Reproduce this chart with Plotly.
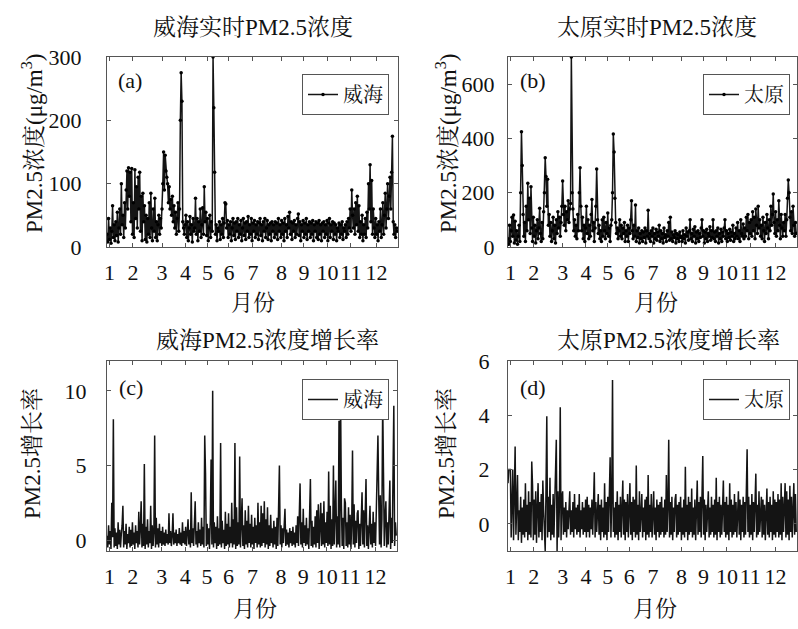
import plotly.graph_objects as go

# ---------------- data ----------------
month_labels = ["1", "2", "3", "4", "5", "6", "7", "8", "9", "10", "11", "12"]
month_label_days = [3, 32.5, 69, 98.5, 126, 153, 183, 219, 247, 276.5, 306, 338]

# Weihai real-time PM2.5 (ug/m3), one reading per day of year
weihai_pm25 = [
    20, 8, 45, 12, 30, 6, 25, 65, 15, 35,
    10, 40, 18, 55, 8, 30, 60, 20, 100, 35,
    50, 15, 70, 30, 90, 120, 60, 125, 80, 118,
    40, 124, 20, 70, 15, 122, 45, 95, 30, 110,
    60, 118, 25, 80, 10, 85, 40, 65, 12, 50,
    8, 45, 20, 70, 15, 85, 30, 10, 60, 25,
    77, 15, 40, 10, 35, 50, 20, 45, 30, 60,
    100, 150, 90, 145, 120, 110, 100, 70, 95, 60,
    75, 50, 80, 40, 65, 30, 55, 20, 45, 70,
    25, 60, 200, 275, 230, 40, 30, 20, 35, 50,
    15, 40, 10, 30, 48, 20, 35, 8, 45, 25,
    30, 77, 20, 45, 10, 40, 25, 60, 15, 35,
    62, 20, 95, 40, 55, 18, 45, 10, 30, 50,
    15, 40, 25, 300, 220, 118, 20, 35, 10, 30,
    25, 40, 12, 35, 20, 45, 15, 38, 70, 68,
    30, 42, 15, 35, 20, 40, 10, 30, 45, 18,
    38, 12, 40, 25, 45, 15, 35, 20, 42, 10,
    30, 45, 18, 38, 12, 40, 25, 48, 15, 35,
    20, 45, 10, 38, 25, 42, 15, 35, 20, 40,
    12, 38, 45, 18, 35, 10, 40, 25, 45, 15,
    30, 42, 12, 35, 20, 38, 10, 40, 25, 35,
    15, 40, 20, 38, 12, 45, 25, 35, 15, 42,
    20, 38, 10, 45, 25, 35, 15, 48, 30, 55,
    20, 40, 12, 38, 25, 42, 15, 35, 20, 45,
    52, 18, 40, 10, 35, 25, 42, 15, 38, 20,
    45, 12, 35, 25, 40, 15, 38, 20, 42, 10,
    35, 25, 40, 15, 38, 12, 42, 20, 35, 10,
    38, 25, 40, 15, 35, 20, 42, 10, 38, 45,
    15, 35, 25, 40, 12, 38, 20, 35, 10, 30,
    25, 38, 15, 35, 20, 40, 12, 30, 25, 35,
    15, 40, 20, 45, 30, 60, 25, 90, 50, 30,
    60, 20, 70, 35, 80, 25, 65, 15, 40, 20,
    50, 10, 35, 20, 45, 15, 55, 30, 100, 60,
    130, 40, 105, 20, 60, 30, 15, 45, 20, 35,
    10, 40, 25, 60, 15, 35, 70, 20, 50, 85,
    30, 60, 100, 45, 80, 110, 60, 118, 175, 40,
    20, 35, 15, 30, 25,
]

# Taiyuan real-time PM2.5 (ug/m3)
taiyuan_pm25 = [
    30, 10, 80, 20, 60, 110, 40, 118, 15, 95,
    25, 60, 10, 40, 80, 20, 200, 425, 300, 120,
    40, 90, 20, 150, 60, 235, 100, 180, 50, 222,
    70, 20, 110, 40, 80, 15, 60, 100, 30, 70,
    143, 50, 20, 90, 30, 130, 200, 329, 260, 150,
    250, 80, 120, 40, 90, 20, 60, 110, 30, 80,
    15, 100, 50, 130, 70, 110, 40, 90, 150, 243,
    120, 80, 150, 60, 130, 100, 170, 90, 140, 160,
    700, 200, 140, 60, 100, 40, 80, 30, 120, 60,
    200, 292, 150, 60, 110, 30, 80, 20, 70, 150,
    50, 100, 30, 80, 40, 120, 175, 60, 90, 20,
    70, 150, 287, 100, 50, 80, 30, 60, 20, 100,
    40, 110, 60, 30, 90, 50, 125, 40, 70, 20,
    80, 100, 200, 416, 350, 180, 90, 50, 70, 30,
    60, 100, 40, 80, 30, 70, 50, 90, 20, 60,
    40, 80, 20, 70, 50, 100, 170, 60, 30, 80,
    40, 155, 20, 60, 35, 70, 15, 50, 30, 60,
    20, 55, 35, 70, 15, 60, 40, 135, 30, 50,
    20, 60, 40, 70, 15, 50, 30, 65, 25, 55,
    40, 80, 20, 60, 30, 50, 15, 70, 35, 45,
    20, 60, 40, 90, 25, 110, 30, 55, 20, 45,
    35, 60, 15, 50, 30, 45, 20, 55, 35, 40,
    20, 60, 30, 45, 15, 70, 40, 55, 25, 60,
    100, 30, 50, 20, 65, 40, 75, 15, 55, 30,
    60, 20, 50, 35, 70, 100, 40, 60, 15, 55,
    30, 65, 20, 50, 40, 75, 25, 60, 35, 100,
    30, 55, 20, 60, 40, 70, 15, 50, 30, 65,
    20, 55, 40, 70, 100, 30, 60, 20, 50, 35,
    65, 25, 55, 40, 80, 20, 50, 30, 70, 40,
    90, 30, 60, 20, 100, 50, 40, 85, 30, 70,
    40, 110, 60, 120, 30, 90, 50, 100, 40, 130,
    60, 110, 30, 140, 80, 50, 150, 70, 100, 40,
    80, 30, 110, 60, 20, 90, 50, 120, 70, 30,
    100, 60, 150, 80, 120, 195, 90, 50, 130, 40,
    100, 60, 170, 80, 30, 120, 70, 40, 90, 60,
    120, 40, 100, 180, 247, 200, 110, 60, 130, 50,
    150, 80, 40, 90, 50,
]

# Weihai PM2.5 growth rate
weihai_rate = [
    0.3, -0.5, 1.0, -0.3, 0.6, -0.6, 2.5, 0.2, 8.1, -0.5,
    0.8, -0.4, 0.5, -0.6, 1.2, -0.3, 0.7, -0.5, 0.4, 1.0,
    2.3, -0.5, 0.6, -0.3, 1.1, -0.6, 0.4, -0.2, 0.9, -0.5,
    0.7, -0.4, 1.2, -0.3, 0.5, -0.6, 1.0, -0.2, 0.6, -0.5,
    1.9, -0.3, 0.8, 2.6, -0.5, 1.1, -0.4, 5.1, -0.6, 0.9,
    -0.3, 1.4, -0.5, 0.6, -0.2, 2.3, -0.6, 1.0, -0.4, 0.5,
    7.0, -0.5, 1.5, -0.3, 0.8, -0.5, 1.1, -0.2, 0.6, -0.4,
    0.9, -0.3, 0.5, -0.4, 0.7, -0.2, 0.4, -0.3, 1.8, -0.2,
    0.6, -0.4, 0.3, 1.8, -0.3, 0.5, -0.2, 0.7, -0.4, 0.4,
    -0.2, 0.8, -0.3, 0.5, -0.4, 1.2, -0.2, 0.6, -0.3, 0.9,
    -0.4, 0.5, 1.4, -0.3, 0.7, -0.5, 3.2, -0.2, 0.8, -0.4,
    1.0, 2.6, -0.3, 0.6, -0.5, 1.2, -0.2, 0.7, -0.4, 1.5,
    -0.3, 0.9, -0.5, 7.0, 4.5, -0.4, 1.1, -0.3, 0.8, -0.6,
    1.3, 5.4, -0.3, 10.0, -0.5, 1.2, -0.2, 0.9, -0.6, 1.6,
    -0.4, 0.8, -0.3, 6.5, -0.5, 1.3, -0.2, 0.7, -0.6, 1.9,
    -0.4, 1.1, -0.3, 1.8, -0.5, 0.9, -0.2, 2.5, -0.5, 1.4,
    -0.3, 6.5, -0.6, 2.2, -0.4, 1.2, -0.3, 5.6, -0.5, 1.6,
    2.8, -0.4, 1.0, -0.6, 2.0, -0.3, 1.3, -0.5, 2.3, -0.2,
    1.1, -0.5, 1.7, -0.3, 0.9, -0.6, 1.5, -0.2, 1.0, -0.5,
    2.5, -0.3, 1.2, -0.5, 2.3, -0.4, 1.8, -0.2, 2.6, -0.5,
    1.4, -0.3, 2.2, -0.6, 1.0, -0.4, 1.7, -0.2, 0.8, -0.5,
    1.3, -0.3, 0.9, -0.6, 1.5, -0.4, 2.2, 5.0, -0.3, 1.0,
    -0.5, 0.8, -0.2, 0.6, 2.1, -0.4, 0.7, -0.3, 0.5, -0.5,
    0.8, -0.2, 0.6, -0.4, 0.9, -0.3, 0.5, -0.5, 1.0, -0.2,
    1.6, -0.4, 2.1, 3.8, -0.3, 1.2, -0.5, 2.1, -0.2, 1.0,
    -0.4, 1.5, -0.3, 0.8, -0.6, 1.8, 4.1, -0.4, 1.3, -0.5,
    0.9, -0.3, 1.6, -0.5, 2.0, -0.2, 2.4, -0.6, 1.1, 2.5,
    -0.4, 1.8, -0.3, 2.6, -0.5, 1.2, -0.2, 1.9, -0.4, 4.6,
    -0.3, 2.3, -0.6, 1.4, -0.4, 5.0, -0.3, 2.0, 4.0, -0.5,
    1.6, -0.3, 8.0, -0.5, 9.5, 2.4, -0.4, 1.5, -0.6, 2.8,
    2.5, -0.4, 1.2, -0.5, 2.2, -0.3, 1.7, -0.6, 1.1, 6.0,
    -0.3, 2.4, -0.5, 1.3, -0.2, 1.8, 2.0, -0.6, 1.1, -0.4,
    1.6, 3.2, -0.3, 2.0, -0.5, 1.4, 4.1, -0.4, 1.0, -0.6,
    1.5, 2.3, -0.3, 1.1, -0.5, 1.9, -0.2, 1.2, -0.4, 2.5,
    3.0, 7.0, 2.9, -0.3, 3.0, -0.5, 1.4, 9.3, 4.5, -0.4,
    1.6, 2.6, -0.5, 1.2, -0.3, 1.8, 4.0, -0.6, 1.5, -0.2,
    3.0, 9.0, -0.4, 1.2, 0.3,
]

# Taiyuan PM2.5 growth rate
taiyuan_rate = [
    1.5, 2.0, 2.0, 2.0, -0.5, 0.8, 2.0, -0.6, 1.8, 2.85,
    -0.4, 0.7, 1.8, -0.6, 0.5, -0.3, 1.0, -0.7, 0.6, -0.4,
    0.9, -0.5, 1.5, -0.3, 0.7, -0.6, 1.2, -0.4, 0.8, -0.5,
    2.3, 1.4, -0.6, 0.9, -0.4, 1.2, -0.7, 0.6, 1.5, -0.5,
    0.8, -0.3, 1.1, -0.6, 1.6, 0.5, -0.4, -1.0, 1.3, 3.96,
    -0.5, 1.0, -0.3, 1.7, -0.6, 0.7, -0.4, 1.1, -0.5, 0.9,
    2.7, 3.1, -1.0, 1.2, -0.5, 0.8, 4.3, -0.6, 1.0, 1.2,
    -0.4, 0.6, -0.3, 0.8, -0.5, 0.5, -0.2, 0.7, 1.2, -0.4,
    0.5, -0.3, 0.8, -0.5, 1.1, -0.2, 0.6, -0.4, 0.7, -0.3,
    1.1, -0.5, 0.5, -0.2, 0.8, -0.4, 0.6, -0.3, 0.9, -0.5,
    1.0, -0.3, 0.7, -0.5, 0.6, -0.2, 0.9, -0.4, 0.5, 1.9,
    -0.5, 0.8, -0.3, 0.6, 1.1, -0.4, 0.7, -0.6, 0.9, -0.3,
    0.6, -0.5, 1.5, -0.4, 0.8, -0.6, 1.0, -0.3, 1.2, 2.45,
    -0.5, 0.9, 5.3, -0.3, 0.6, -0.5, 0.8, -0.4, 1.2, -0.6,
    0.7, -0.3, 1.0, -0.5, 0.6, 1.6, -0.4, 0.9, -0.6, 0.8,
    -0.3, 1.1, -0.5, 0.7, 1.5, -0.4, 0.8, -0.6, 1.0, -0.3,
    0.9, -0.5, 2.15, -0.4, 0.7, -0.6, 1.2, -0.3, 0.8, 1.1,
    -0.5, 0.6, -0.3, 0.9, -0.6, 1.0, -0.4, 1.8, -0.5, 0.7,
    -0.3, 1.1, -0.5, 0.8, 1.2, -0.4, 0.6, -0.6, 0.9, -0.3,
    0.7, -0.5, 0.8, -0.4, 1.0, -0.3, 0.6, -0.5, 0.9, -0.4,
    1.8, -0.3, 0.7, 3.1, -0.5, 0.8, -0.4, 1.0, -0.6, 0.6,
    -0.3, 0.9, 1.1, -0.5, 0.7, -0.4, 0.8, -0.3, 1.0, -0.6,
    0.6, -0.4, 0.9, -0.5, 2.1, -0.3, 0.7, -0.6, 1.0, -0.4,
    0.8, -0.3, 1.3, -0.5, 0.6, -0.4, 0.9, -0.6, 0.7, 1.6,
    -0.4, 0.8, -0.3, 1.0, -0.5, 0.6, 2.5, -0.4, 0.9, -0.6,
    0.7, -0.3, 0.8, 1.2, -0.5, 0.6, -0.4, 1.0, -0.3, 0.7,
    -0.5, 0.9, -0.4, 1.7, -0.6, 0.8, -0.3, 1.0, -0.5, 0.7,
    -0.4, 0.9, 1.6, -0.3, 0.8, -0.5, 1.0, -0.4, 0.7, -0.6,
    1.5, -0.3, 0.9, -0.5, 0.7, -0.4, 1.1, -0.3, 0.8, -0.5,
    0.6, 1.2, -0.4, 0.9, -0.6, 0.7, -0.3, 1.0, -0.5, 0.8,
    -0.4, 0.9, 2.75, -0.3, 1.0, -0.5, 0.7, -0.4, 1.1, -0.6,
    0.8, -0.3, 1.0, 1.85, -0.5, 0.7, -0.4, 1.2, -0.3, 0.8,
    1.0, -0.5, 0.9, -0.4, 0.7, -0.6, 1.1, 1.3, -0.4, 0.8,
    -0.5, 1.0, -0.3, 0.7, -0.6, 1.2, -0.4, 0.9, -0.5, 0.8,
    -0.3, 1.1, -0.5, 0.9, -0.4, 1.5, -0.6, 1.0, -0.3, 0.8,
    1.5, -0.5, 1.2, -0.4, 0.9, -0.6, 1.4, -0.3, 1.0, -0.5,
    0.9, 1.5, -0.4, 1.1, -0.3,
]

# ---------------- figure ----------------
W, H = 798, 629
FONT = "Liberation Serif, 'Noto Serif CJK SC', 'Noto Sans CJK SC', serif"
FRAME = "#555555"
INK = "#111111"


def px(x):
    return x / W


def py(y):
    return 1 - y / H


fig = go.Figure()

panels = [
    dict(name="威海", data=weihai_pm25, xa="x", ya="y", lg="legend", markers=True),
    dict(name="太原", data=taiyuan_pm25, xa="x2", ya="y2", lg="legend2", markers=True),
    dict(name="威海", data=weihai_rate, xa="x3", ya="y3", lg="legend3", markers=False),
    dict(name="太原", data=taiyuan_rate, xa="x4", ya="y4", lg="legend4", markers=False),
]

for p in panels:
    days = list(range(len(p["data"])))
    fig.add_trace(go.Scatter(
        x=days, y=p["data"], name=p["name"],
        mode="lines+markers" if p["markers"] else "lines",
        line=dict(color="#141414", width=1.5),
        marker=dict(color="#000000", size=3.5, symbol="circle"),
        xaxis=p["xa"], yaxis=p["ya"], legend=p["lg"], showlegend=True,
    ))

# panel boxes in pixels: (left, right, top, bottom)
boxes = {
    "1": (107, 398, 57, 247),
    "2": (508, 797, 57, 247),
    "3": (107, 397, 361, 551),
    "4": (508, 797, 361, 551),
}
y_ranges = {"1": [0, 300], "2": [0, 700], "3": [-0.73, 12], "4": [-1, 6]}
y_ticks = {"1": [0, 100, 200, 300], "2": [0, 200, 400, 600],
           "3": [0, 5, 10], "4": [0, 2, 4, 6]}
y_standoff = {"1": 20, "2": 8, "3": 15, "4": 13}

layout = dict(
    width=W, height=H, autosize=False,
    margin=dict(l=0, r=0, t=0, b=0, pad=0, autoexpand=False),
    paper_bgcolor="white", plot_bgcolor="white",
    font=dict(family=FONT, size=20, color=INK),
    showlegend=True,
)

for k, (l, r, t, b) in boxes.items():
    xs = "" if k == "1" else k
    layout["xaxis" + xs] = dict(
        domain=[px(l), px(r)], anchor="y" + xs, range=[0, 365],
        tickmode="array", tickvals=month_label_days, ticktext=month_labels,
        ticks="inside", ticklen=4, tickcolor=FRAME, tickangle=0,
        showline=True, linecolor=FRAME, linewidth=1, mirror="ticks",
        showgrid=False, zeroline=False, automargin=False,
        tickfont=dict(family=FONT, size=22, color=INK),
        ticklabelstandoff=6,
    )
    layout["yaxis" + xs] = dict(
        domain=[py(b), py(t)], anchor="x" + xs, range=y_ranges[k],
        tickmode="array", tickvals=y_ticks[k],
        ticks="inside", ticklen=4, tickcolor=FRAME,
        showline=True, linecolor=FRAME, linewidth=1, mirror="ticks",
        showgrid=False, zeroline=False, automargin=False,
        tickfont=dict(family=FONT, size=22, color=INK),
        ticklabelstandoff=y_standoff[k],
    )

legend_pos = {"legend": (389, 74), "legend2": (790, 74),
              "legend3": (389, 379), "legend4": (790, 379)}
for name, (xr, yt) in legend_pos.items():
    layout[name] = dict(
        x=px(xr), y=py(yt), xanchor="right", yanchor="top",
        xref="paper", yref="paper",
        bgcolor="white", bordercolor=FRAME, borderwidth=1,
        font=dict(family=FONT, size=20, color=INK),
        itemwidth=30, tracegroupgap=0,
    )

fig.update_layout(**layout)

ann = []
# titles
for text, x, y in [("威海实时PM2.5浓度", 253, 28), ("太原实时PM2.5浓度", 657, 28),
                   ("威海PM2.5浓度增长率", 267, 340), ("太原PM2.5浓度增长率", 668, 340)]:
    ann.append(dict(text=text, x=px(x), y=py(y), xref="paper", yref="paper",
                    showarrow=False, xanchor="center", yanchor="middle",
                    font=dict(family=FONT, size=23, color=INK)))
# x-axis titles
for x, y in [(253, 302), (656, 302), (255, 608), (655, 608)]:
    ann.append(dict(text="月份", x=px(x), y=py(y), xref="paper", yref="paper",
                    showarrow=False, xanchor="center", yanchor="middle",
                    font=dict(family=FONT, size=22, color=INK)))
# y-axis titles
for text, x, y in [("PM2.5浓度(μg/m<sup>3</sup>)", 32, 144),
                   ("PM2.5浓度(μg/m<sup>3</sup>)", 446, 144),
                   ("PM2.5增长率", 32, 454), ("PM2.5增长率", 446, 454)]:
    ann.append(dict(text=text, x=px(x), y=py(y), xref="paper", yref="paper",
                    showarrow=False, xanchor="center", yanchor="middle",
                    textangle=-90,
                    font=dict(family=FONT, size=23, color=INK)))
# panel letters
for text, x, y in [("(a)", 130, 81), ("(b)", 533, 81), ("(c)", 131, 387), ("(d)", 533, 387)]:
    ann.append(dict(text=text, x=px(x), y=py(y), xref="paper", yref="paper",
                    showarrow=False, xanchor="center", yanchor="middle",
                    font=dict(family=FONT, size=22, color=INK)))

fig.update_layout(annotations=ann)
fig.write_html(
    "out.html",
    config={"displayModeBar": False},
    post_script="document.body.style.margin='0';document.body.style.padding='0';"
                "document.body.style.overflow='hidden';",
)
